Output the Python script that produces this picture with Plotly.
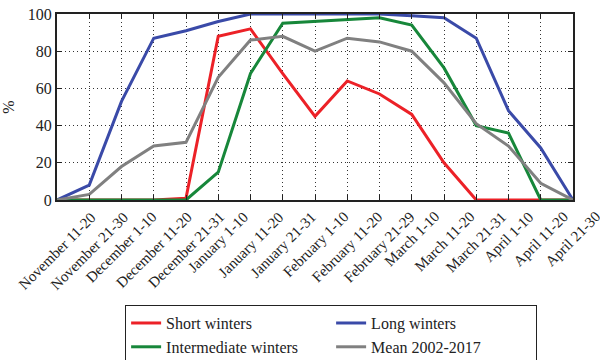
import plotly.graph_objects as go

# Ten-day periods of the snow season
periods = [
    "November 11-20", "November 21-30", "December 1-10", "December 11-20",
    "December 21-31", "January 1-10", "January 11-20", "January 21-31",
    "February 1-10", "February 11-20", "February 21-29", "March 1-10",
    "March 11-20", "March 21-31", "April 1-10", "April 11-20", "April 21-30",
]

# Share of days (%) per period
short_winters = [0, 0, 0, 0, 1, 88, 92, 68, 45, 64, 57, 46, 20, 0, 0, 0, 0]
intermediate_winters = [0, 0, 0, 0, 0, 15, 68, 95, 96, 97, 98, 94, 71, 40, 36, 0, 0]
long_winters = [0, 8, 53, 87, 91, 96, 100, 100, 100, 100, 100, 99, 98, 87, 48, 28, 0]
mean_2002_2017 = [0, 3, 18, 29, 31, 66, 86, 88, 80, 87, 85, 80, 63, 41, 29, 9, 0]

y_ticks = [0, 20, 40, 60, 80, 100]

series = [
    ("Short winters", short_winters, "#ec2127"),
    ("Long winters", long_winters, "#3a4aa8"),
    ("Intermediate winters", intermediate_winters, "#17873a"),
    ("Mean 2002-2017", mean_2002_2017, "#808080"),
]

FONT = "'Liberation Serif', 'Times New Roman', 'DejaVu Serif', serif"
x_idx = list(range(len(periods)))

fig = go.Figure()
for name, vals, color in series:
    fig.add_trace(go.Scatter(
        x=x_idx, y=vals, mode="lines", name=name,
        line=dict(color=color, width=3),
    ))

# Rotated period labels, centred under each tick
for i, lab in enumerate(periods):
    fig.add_annotation(
        x=i, y=0, xref="x", yref="y", text=lab, showarrow=False,
        textangle=-45, xanchor="center", yanchor="top", yshift=-6,
        font=dict(family=FONT, size=15, color="#222222"),
    )

axis_common = dict(
    showline=True, linecolor="#222222", linewidth=2, mirror="allticks",
    ticks="inside", ticklen=5, tickcolor="#222222", tickwidth=1,
    showgrid=True, gridcolor="#333333", gridwidth=1, griddash="1px,3px",
    zeroline=False,
)

fig.update_xaxes(
    range=[0, len(periods) - 1], tickmode="array", tickvals=x_idx,
    showticklabels=False, **axis_common,
)
fig.update_yaxes(
    range=[0, 100], tickmode="array", tickvals=y_ticks,
    ticktext=[str(v) for v in y_ticks],
    tickfont=dict(family=FONT, size=16, color="#222222"),
    title=dict(text="%", font=dict(family=FONT, size=16, color="#222222"), standoff=12),
    **axis_common,
)

fig.update_layout(
    width=600, height=360,
    margin=dict(l=57, r=27, t=14, b=160, autoexpand=False),
    plot_bgcolor="white", paper_bgcolor="white",
    font=dict(family=FONT, size=15, color="#222222"),
    showlegend=True,
    legend=dict(
        orientation="h", x=0.132, y=-0.565, xanchor="left", yanchor="top",
        bordercolor="#222222", borderwidth=1, bgcolor="white",
        entrywidth=160, entrywidthmode="pixels",
        font=dict(family=FONT, size=16, color="#222222"),
    ),
)

fig.write_html("out.html")
